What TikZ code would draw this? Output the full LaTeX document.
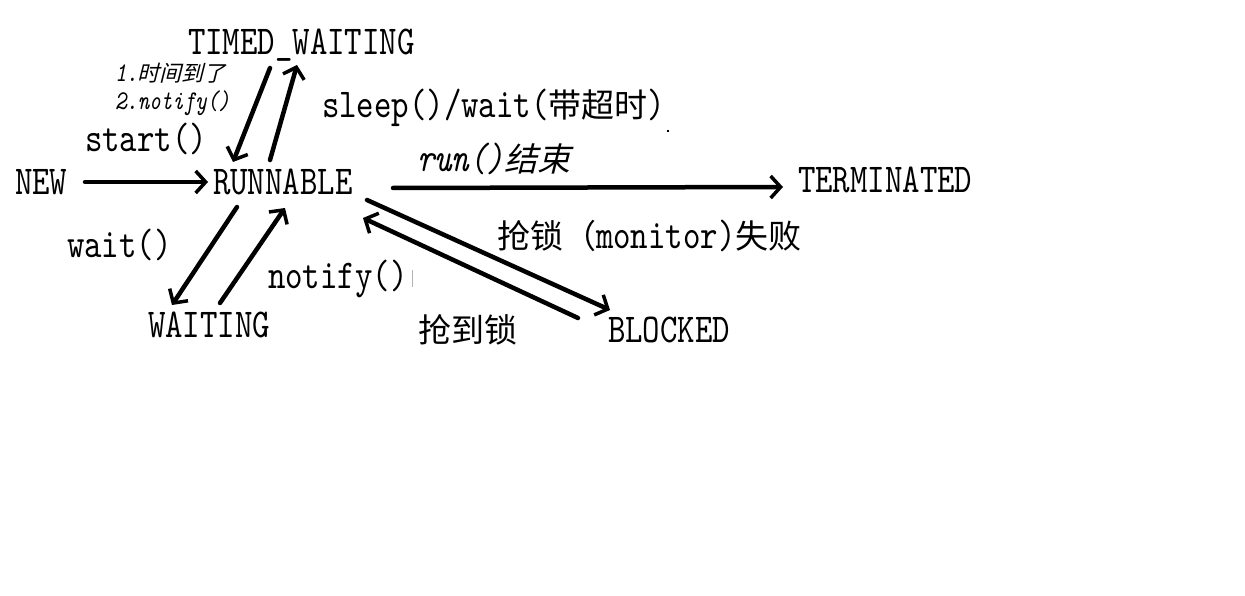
\documentclass[tikz,border=0pt]{standalone}
\usepackage{fontspec}
\usetikzlibrary{arrows.meta}
\newfontfamily\simfont[Extension=.otf,FakeStretch=0.81]{lmmono10-regular}
\newfontfamily\simit[Extension=.otf,FakeStretch=0.81]{lmmono10-italic}
\newfontfamily\cjk{Noto Sans CJK SC}
\newfontfamily\cjkit[FakeSlant=0.25]{Noto Sans CJK SC}
\begin{document}
\begin{tikzpicture}[x=1pt,y=-1pt,
  lbl/.style={anchor=base west,inner sep=0pt,outer sep=0pt,font=\simfont\fontsize{41}{41}\selectfont},
  small/.style={anchor=base west,inner sep=0pt,outer sep=0pt,font=\simit\fontsize{27}{27}\selectfont},
  arr/.style={line width=4.5pt,line cap=round,-{Straight Barb[length=10pt,width=22pt,line width=3.5pt]}}]
\useasboundingbox[fill=white] (0,0) rectangle (1245,596);
% states
\node[lbl] (TW) at (188,55) {TIMED\_WAITING};
\node[lbl] (NEW) at (15,195) {NEW};
\node[lbl] (RUN) at (213,195) {RUNNABLE};
\node[lbl] (TERM) at (798,193) {TERMINATED};
\node[lbl] (BL) at (608,342) {BLOCKED};
\node[lbl] (WAIT) at (148,337) {WAITING};
% labels
\node[small] (l1) at (115,82) {1.{\cjkit\fontsize{22}{22}\selectfont 时间到了}};
\node[small] (l2) at (115,110) {2.notify()};
\node[lbl] (lstart) at (85,152) {start()};
\node[lbl] (lsleep) at (322,118) {sleep()/wait({\cjk\fontsize{33}{33}\selectfont 带超时})};
\node[lbl,font=\simit\fontsize{41}{41}\selectfont] (lrun) at (417,172) {run(){\cjkit\fontsize{33}{33}\selectfont 结束}};
\node[lbl] (lfail) at (497,248) {{\cjk\fontsize{33}{33}\selectfont 抢锁（}monitor){\cjk\fontsize{33}{33}\selectfont 失败}};
\node[lbl,font=\cjk\fontsize{33}{33}\selectfont] (lgot) at (418,342) {抢到锁};
\node[lbl] (lwait) at (67,258) {wait()};
\node[lbl] (lnotify) at (268,288) {notify()};
% connectors
\draw[arr] ([shift={(70,-13)}]NEW.base west) -- ([shift={(-5,-13)}]RUN.base west);
\draw[arr] ([shift={(82,13)}]TW.base west) -- ([shift={(20,-33)}]RUN.base west);
\draw[arr] ([shift={(57,-35)}]RUN.base west) -- ([shift={(109,10)}]TW.base west);
\draw[arr] ([shift={(180,-7)}]RUN.base west) -- ([shift={(-15,-6)}]TERM.base west);
\draw[arr] ([shift={(154,5)}]RUN.base west) -- ([shift={(2,-32)}]BL.base west);
\draw[arr] ([shift={(-30,-24)}]BL.base west) -- ([shift={(150,23)}]RUN.base west);
\draw[arr] ([shift={(24,12)}]RUN.base west) -- ([shift={(24,-32)}]WAIT.base west);
\draw[arr] ([shift={(72,-34)}]WAIT.base west) -- ([shift={(72,13)}]RUN.base west);
% stray marks
\fill[black] (667,130) rectangle (669,132);
\draw[gray!60,line width=1pt] (412,270) -- (412,287);
\end{tikzpicture}
\end{document}
